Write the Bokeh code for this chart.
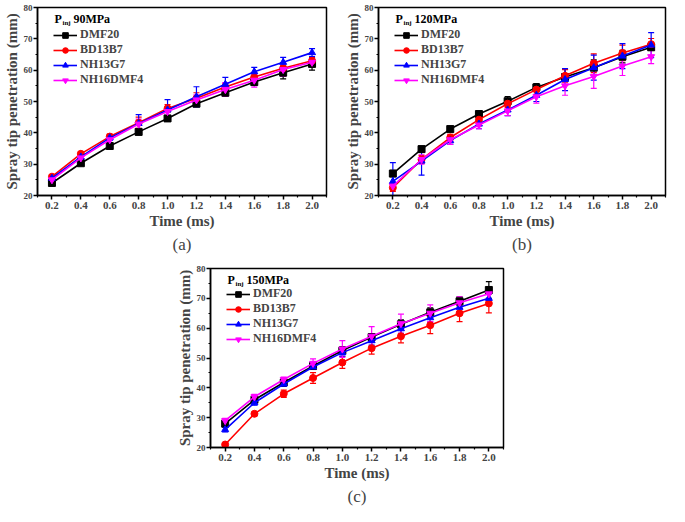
from bokeh.plotting import figure
from bokeh.models import (ColumnDataSource, Whisker, TeeHead, Legend, LegendItem, Label,
                          FixedTicker, PrintfTickFormatter, Title, Range1d, Spacer)
from bokeh.layouts import column, row
from bokeh.embed import file_html
from bokeh.resources import INLINE

time_ms = [0.2, 0.4, 0.6, 0.8, 1.0, 1.2, 1.4, 1.6, 1.8, 2.0]
fuels = ["DMF20", "BD13B7", "NH13G7", "NH16DMF4"]
colors = ["#000000", "#ff0000", "#0000ff", "#ff00ff"]
markers = ["square", "circle", "triangle", "inverted_triangle"]
y_ticks = [20, 30, 40, 50, 60, 70, 80]

# (a) 90 MPa
a_DMF20 = [24.0, 30.3, 35.8, 40.3, 44.6, 49.3, 52.8, 56.2, 59.2, 62.0]
a_BD13B7 = [26.0, 33.3, 38.8, 43.2, 47.8, 51.0, 54.6, 57.8, 60.6, 63.0]
a_NH13G7 = [25.5, 32.3, 38.4, 43.0, 47.3, 51.5, 55.5, 59.5, 62.5, 65.6]
a_NH16DMF4 = [25.0, 32.0, 37.8, 42.8, 46.8, 50.5, 53.8, 56.8, 60.2, 62.5]
a_err_DMF20 = [0.6, 0.6, 0.7, 0.8, 0.6, 0.6, 0.8, 1.0, 2.0, 2.0]
a_err_BD13B7 = [0.6, 0.6, 0.8, 1.8, 1.2, 1.8, 1.2, 1.2, 1.0, 1.0]
a_err_NH13G7 = [0.6, 0.8, 0.8, 2.8, 3.3, 3.2, 2.2, 1.4, 1.6, 1.3]
a_err_NH16DMF4 = [0.6, 0.8, 1.0, 1.6, 1.6, 1.6, 2.2, 2.2, 2.2, 1.2]

# (b) 120 MPa
b_DMF20 = [27.0, 34.8, 41.2, 46.0, 50.1, 54.5, 57.8, 60.8, 64.3, 67.3]
b_BD13B7 = [22.5, 31.5, 38.5, 44.2, 49.3, 53.8, 58.2, 62.2, 65.5, 68.3]
b_NH13G7 = [24.5, 31.0, 37.5, 42.8, 47.3, 52.0, 57.0, 60.8, 64.5, 68.0]
b_NH16DMF4 = [23.0, 31.5, 37.8, 42.5, 47.0, 51.5, 55.0, 58.0, 61.3, 64.3]
b_err_DMF20 = [1.0, 1.0, 0.7, 0.6, 1.5, 1.2, 2.5, 2.5, 2.0, 1.0]
b_err_BD13B7 = [1.2, 1.2, 1.0, 1.0, 1.2, 1.5, 2.0, 3.0, 2.5, 1.8]
b_err_NH13G7 = [6.0, 4.5, 1.2, 1.5, 1.8, 2.0, 3.5, 4.0, 4.0, 4.0]
b_err_NH16DMF4 = [1.0, 1.5, 1.5, 1.2, 1.5, 2.0, 3.0, 3.8, 3.0, 2.2]

# (c) 150 MPa
c_DMF20 = [28.0, 36.0, 41.8, 47.3, 52.5, 57.0, 61.3, 65.3, 69.0, 72.8]
c_BD13B7 = [21.0, 31.3, 38.0, 43.3, 48.5, 53.3, 57.3, 61.0, 65.0, 68.3]
c_NH13G7 = [26.0, 35.0, 41.3, 47.0, 51.8, 55.8, 59.8, 63.5, 67.0, 70.0]
c_NH16DMF4 = [29.0, 37.0, 42.8, 48.2, 53.0, 57.3, 61.5, 65.0, 68.5, 71.5]
c_err_DMF20 = [1.0, 0.8, 0.8, 0.8, 1.2, 1.2, 1.5, 1.5, 1.5, 2.8]
c_err_BD13B7 = [0.6, 0.6, 1.2, 1.8, 2.0, 2.0, 2.2, 2.8, 2.8, 3.2]
c_err_NH13G7 = [0.8, 0.8, 0.8, 0.8, 1.2, 1.5, 1.5, 1.5, 1.5, 1.5]
c_err_NH16DMF4 = [0.8, 0.8, 0.8, 1.5, 2.8, 3.2, 3.2, 2.8, 2.0, 2.0]

FONT = "Liberation Serif"


def make_panel(pressure, tag, series, errors, width, height, mb_left, mb_right, mb_top, mb_bottom):
    p = figure(width=width, height=height, output_backend="svg", toolbar_location=None,
               x_range=Range1d(0.1, 2.1), y_range=Range1d(20, 80),
               min_border_left=mb_left, min_border_right=mb_right,
               min_border_top=mb_top, min_border_bottom=mb_bottom)
    p.grid.visible = False
    p.outline_line_color = "black"
    p.outline_line_width = 1.5
    p.background_fill_color = "white"
    p.border_fill_color = "white"

    minor_x = [round(t - 0.1, 2) for t in time_ms] + [round(time_ms[-1] + 0.1, 2)]
    p.xaxis.ticker = FixedTicker(ticks=time_ms, minor_ticks=minor_x)
    p.xaxis.formatter = PrintfTickFormatter(format="%.1f")
    minor_y = [v + 5 for v in y_ticks[:-1]]
    p.yaxis.ticker = FixedTicker(ticks=y_ticks, minor_ticks=minor_y)

    for ax in (p.xaxis, p.yaxis):
        ax.axis_line_width = 1.5
        ax.major_tick_line_width = 1.5
        ax.minor_tick_line_width = 1.2
        ax.major_tick_out = 4
        ax.major_tick_in = 0
        ax.minor_tick_out = 2
        ax.minor_tick_in = 0
        ax.major_label_text_font = FONT
        ax.major_label_text_font_style = "bold"
        ax.axis_label_text_font = FONT
        ax.axis_label_text_font_style = "bold"
        ax.axis_label_text_font_size = "15px"
        ax.major_label_standoff = 2
        ax.axis_label_standoff = 1
    p.xaxis.major_label_text_font_size = "11px"
    p.yaxis.major_label_text_font_size = "9px"
    p.yaxis.major_label_standoff = 1
    p.xaxis.axis_label = "Time (ms)"
    p.yaxis.axis_label = "Spray tip penetration (mm)"

    items = []
    for name, vals, errs, col, mk in zip(fuels, series, errors, colors, markers):
        src = ColumnDataSource(dict(x=time_ms, y=vals,
                                    lo=[v - e for v, e in zip(vals, errs)],
                                    hi=[v + e for v, e in zip(vals, errs)]))
        w = Whisker(source=src, base="x", lower="lo", upper="hi",
                    line_color=col, line_width=1.2,
                    upper_head=TeeHead(size=6, line_color=col, line_width=1.2),
                    lower_head=TeeHead(size=6, line_color=col, line_width=1.2))
        p.add_layout(w)
        ln = p.line("x", "y", source=src, line_color=col, line_width=1.6)
        sc = p.scatter("x", "y", source=src, marker=mk, size=7,
                       fill_color=col, line_color=col)
        items.append(LegendItem(label=name, renderers=[ln, sc]))

    frame_h = height - mb_top - mb_bottom
    legend_h = 4 * 16 - 3 * 2
    legend = Legend(items=items, location=(16, frame_h - 23 - legend_h),
                    label_text_font=FONT, label_text_font_style="bold",
                    label_text_font_size="12px", label_height=14, glyph_height=14,
                    glyph_width=24, label_standoff=3, spacing=-2, padding=0, margin=0,
                    border_line_alpha=0, background_fill_alpha=0)
    p.add_layout(legend)

    px_per_unit_y = frame_h / 60.0
    ty = 80 - 12 / px_per_unit_y
    frame_w = width - mb_left - mb_right
    tx = 0.1 + 17 / (frame_w / 2.0)
    common = dict(x=tx, y=ty, text_font=FONT, text_font_style="bold", text_baseline="middle",
                  text_color="black")
    p.add_layout(Label(text="P", text_font_size="12px", **common))
    p.add_layout(Label(text="inj", text_font_size="7px", x_offset=8, y_offset=-4, **common))
    p.add_layout(Label(text=pressure, text_font_size="12px", x_offset=19, **common))

    p.add_layout(Title(text=tag, align="center", text_font=FONT, text_font_style="normal",
                       text_font_size="17px", standoff=2), "below")
    return p


pa = make_panel("90MPa", "(a)", [a_DMF20, a_BD13B7, a_NH13G7, a_NH16DMF4],
                [a_err_DMF20, a_err_BD13B7, a_err_NH13G7, a_err_NH16DMF4],
                330, 254, 36, 4, 7, 58)
pb = make_panel("120MPa", "(b)", [b_DMF20, b_BD13B7, b_NH13G7, b_NH16DMF4],
                [b_err_DMF20, b_err_BD13B7, b_err_NH13G7, b_err_NH16DMF4],
                339, 254, 48, 4, 7, 58)
pc = make_panel("150MPa", "(c)", [c_DMF20, c_BD13B7, c_NH13G7, c_NH16DMF4],
                [c_err_DMF20, c_err_BD13B7, c_err_NH13G7, c_err_NH16DMF4],
                336, 252, 36, 6, 14, 56)

layout = column(row(pa, pb), row(Spacer(width=173, height=252), pc))
open("out.html", "w").write(file_html(layout, INLINE))
